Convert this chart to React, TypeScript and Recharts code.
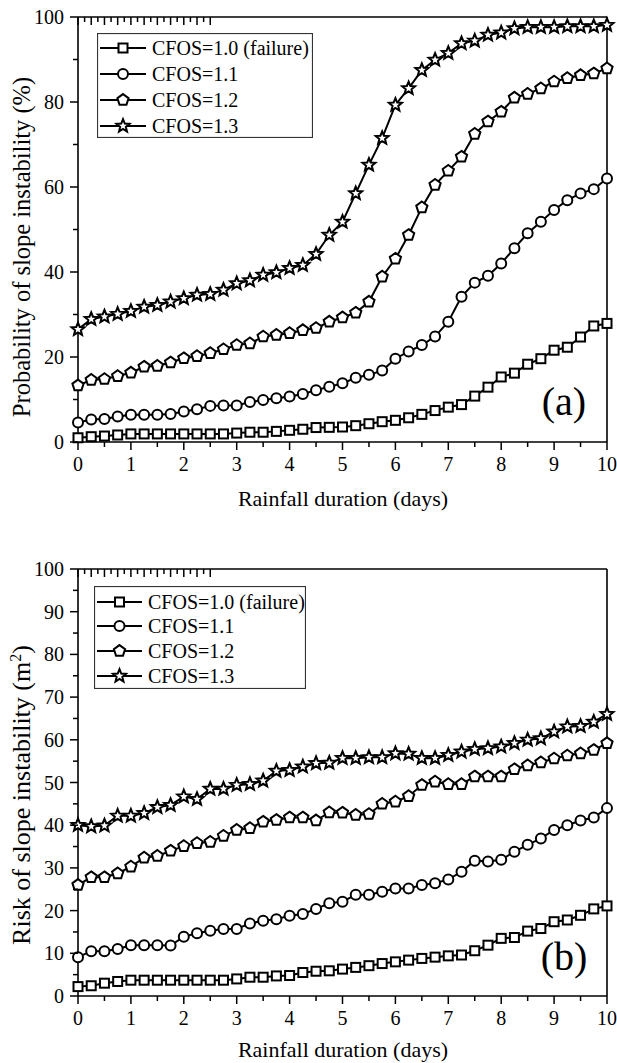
import React from "react";
import { LineChart, Line, XAxis, YAxis, Legend, Label } from "recharts";

const FONT = "'Liberation Serif', serif";

// rainfall duration (days), one point every 6 h
const DAYS = [
  0, 0.25, 0.5, 0.75, 1, 1.25, 1.5, 1.75, 2, 2.25, 2.5, 2.75, 3, 3.25, 3.5,
  3.75, 4, 4.25, 4.5, 4.75, 5, 5.25, 5.5, 5.75, 6, 6.25, 6.5, 6.75, 7, 7.25,
  7.5, 7.75, 8, 8.25, 8.5, 8.75, 9, 9.25, 9.5, 9.75, 10,
];

const NAMES = ["CFOS=1.0 (failure)", "CFOS=1.1", "CFOS=1.2", "CFOS=1.3"];
const KEYS = ["c10", "c11", "c12", "c13"];
const SHAPES = ["square", "circle", "pentagon", "star"];

// (a) probability of slope instability (%)
const PROB_10 = [
  1.0, 1.25, 1.4, 1.65, 1.9, 1.9, 1.9, 1.9, 1.9, 1.9, 1.9, 1.9, 2.1, 2.3, 2.3,
  2.5, 2.75, 3.0, 3.4, 3.45, 3.53, 3.84, 4.3, 4.78, 5.1, 5.7, 6.5, 7.4, 8.2,
  8.8, 10.8, 12.9, 15.3, 16.2, 18.3, 19.6, 21.6, 22.3, 24.7, 27.3, 27.9,
];
const PROB_11 = [
  4.6, 5.3, 5.4, 6.0, 6.4, 6.4, 6.4, 6.6, 7.2, 7.7, 8.5, 8.6, 8.6, 9.4, 9.9,
  10.3, 10.7, 11.3, 12.2, 13.0, 13.8, 15.1, 15.8, 16.8, 19.6, 21.3, 22.8,
  24.8, 28.3, 34.2, 37.5, 39.1, 42.0, 45.6, 49.1, 51.8, 54.6, 56.9, 58.5,
  59.5, 62.0,
];
const PROB_12 = [
  13.3, 14.6, 14.8, 15.5, 16.3, 17.7, 17.9, 18.7, 19.7, 20.2, 20.9, 21.8,
  22.8, 23.2, 24.8, 25.2, 25.6, 26.3, 26.8, 28.3, 29.3, 30.4, 33.0, 38.9,
  43.1, 48.7, 55.2, 60.5, 63.8, 67.1, 72.5, 75.4, 77.7, 81.0, 81.9, 83.2,
  84.8, 85.6, 86.3, 86.7, 87.9,
];
const PROB_13 = [
  26.5, 28.9, 29.5, 30.1, 30.8, 31.8, 32.2, 33.0, 33.8, 34.6, 34.8, 35.8,
  37.3, 38.0, 39.3, 39.9, 40.9, 41.6, 44.2, 48.7, 51.8, 58.5, 65.2, 71.5,
  79.3, 83.2, 87.5, 89.9, 91.5, 93.8, 94.4, 95.8, 96.3, 97.3, 97.6, 97.6,
  97.6, 97.8, 97.8, 97.8, 98.1,
];

// (b) risk of slope instability (m2)
const RISK_10 = [
  2.2, 2.4, 3.0, 3.4, 3.7, 3.7, 3.7, 3.7, 3.7, 3.7, 3.7, 3.7, 4.0, 4.4, 4.4,
  4.7, 4.8, 5.5, 5.8, 5.9, 6.3, 6.7, 7.1, 7.6, 8.0, 8.4, 8.8, 9.1, 9.4, 9.6,
  10.6, 11.9, 13.5, 13.7, 15.2, 15.8, 17.4, 17.8, 18.9, 20.4, 21.1,
];
const RISK_11 = [
  9.1, 10.5, 10.5, 11.0, 11.9, 11.9, 11.9, 11.8, 13.9, 14.7, 15.3, 15.7, 15.7,
  17.0, 17.6, 18.0, 18.8, 19.2, 20.4, 21.7, 22.1, 23.7, 23.7, 24.4, 25.2,
  25.2, 26.0, 26.4, 27.3, 29.1, 31.7, 31.5, 31.9, 33.8, 35.4, 36.9, 38.9,
  40.0, 41.1, 41.8, 44.0,
];
const RISK_12 = [
  26.0, 27.8, 27.8, 28.7, 30.3, 32.4, 32.8, 34.0, 35.1, 35.8, 36.1, 37.5,
  38.9, 39.3, 40.8, 41.2, 41.8, 41.8, 41.1, 43.0, 42.9, 42.4, 42.6, 45.0,
  45.5, 46.8, 49.4, 50.2, 49.6, 49.6, 51.4, 51.4, 51.4, 53.1, 54.0, 54.7,
  55.6, 56.3, 56.8, 57.6, 59.2,
];
const RISK_13 = [
  40.0, 39.7, 39.9, 42.2, 42.2, 42.8, 44.2, 44.7, 46.7, 46.1, 48.5, 48.5,
  49.4, 49.6, 50.4, 52.7, 52.9, 53.7, 54.5, 54.6, 55.7, 55.7, 55.9, 55.9,
  56.8, 56.7, 55.7, 55.7, 56.4, 57.2, 57.8, 58.0, 58.4, 59.2, 60.0, 60.3,
  61.9, 63.1, 63.2, 64.2, 66.0,
];

const X_TICKS = [
  0, 0.5, 1, 1.5, 2, 2.5, 3, 3.5, 4, 4.5, 5, 5.5, 6, 6.5, 7, 7.5, 8, 8.5, 9,
  9.5, 10,
];
const Y_TICKS_A = [0, 10, 20, 30, 40, 50, 60, 70, 80, 90, 100];
const Y_TICKS_B = [
  0, 5, 10, 15, 20, 25, 30, 35, 40, 45, 50, 55, 60, 65, 70, 75, 80, 85, 90,
  95, 100,
];

const rows = (series: number[][]) =>
  DAYS.map((d, i) => {
    const r: any = { day: d };
    KEYS.forEach((k, j) => (r[k] = series[j][i]));
    return r;
  });

const DATA_A = rows([PROB_10, PROB_11, PROB_12, PROB_13]);
const DATA_B = rows([RISK_10, RISK_11, RISK_12, RISK_13]);

function Marker({ cx, cy, shape }: { cx: number; cy: number; shape: string }) {
  const st = { fill: "#fff", stroke: "#000", strokeWidth: 2 };
  if (shape === "square")
    return <rect x={cx - 4.5} y={cy - 4.5} width={9} height={9} {...st} />;
  if (shape === "circle") return <circle cx={cx} cy={cy} r={5} {...st} />;
  const n = shape === "star" ? 10 : 5;
  const pts: string[] = [];
  for (let i = 0; i < n; i++) {
    const r = shape === "star" ? (i % 2 ? 3 : 6.8) : 5.9;
    const a = -Math.PI / 2 + (i * 2 * Math.PI) / n;
    pts.push(`${cx + r * Math.cos(a)},${cy + r * Math.sin(a)}`);
  }
  return <polygon points={pts.join(" ")} {...st} />;
}

const TL = { stroke: "#000", strokeWidth: 1.5 };
const TXT = (size: number) => ({
  fontFamily: "Liberation Serif",
  style: { fontFamily: FONT, fontSize: size },
  fill: "#000",
});

function makeTick(side: string, isMajor: (v: number) => boolean, labels: boolean) {
  return (p: any) => {
    const { x, y, payload } = p;
    const v = payload.value;
    const len = isMajor(v) ? 8 : 5;
    if (side === "bottom")
      return (
        <g>
          <line x1={x} y1={y} x2={x} y2={y + len} {...TL} />
          {labels && isMajor(v) && (
            <text x={x} y={y + 29} textAnchor="middle" {...TXT(20)}>
              {v}
            </text>
          )}
        </g>
      );
    if (side === "left")
      return (
        <g>
          <line x1={x} y1={y} x2={x - len} y2={y} {...TL} />
          {labels && isMajor(v) && (
            <text x={x - 14} y={y + 7} textAnchor="end" {...TXT(20)}>
              {v}
            </text>
          )}
        </g>
      );
    if (side === "top") return <line x1={x} y1={y} x2={x} y2={y + len} {...TL} />;
    return <line x1={x} y1={y} x2={x - len} y2={y} {...TL} />;
  };
}

const xMajor = (v: number) => Number.isInteger(v);

function LegendBox({ payload, w, h, rowY, textX }: any) {
  return (
    <svg width={w} height={h} style={{ display: "block" }}>
      <rect x={0.5} y={0.5} width={w - 1} height={h - 1} fill="#fff" stroke="#333" strokeWidth={1.2} />
      {(payload || []).map((e: any, i: number) => {
        const idx = KEYS.indexOf(e.dataKey);
        const cy = rowY[i];
        return (
          <g key={e.dataKey}>
            <line x1={3} y1={cy} x2={textX - 6} y2={cy} stroke="#000" strokeWidth={2} />
            <Marker cx={(textX - 3) / 2} cy={cy} shape={SHAPES[idx]} />
            <text x={textX} y={cy + 7} {...TXT(20)}>
              {e.value}
            </text>
          </g>
        );
      })}
    </svg>
  );
}

function Panel(props: any) {
  const { data, height, margin, yTicks, yMajor, yTitle, yTitleY, yTitleSize, xTitleY, tag, tagY, legend } = props;
  return (
    <LineChart width={617} height={height} data={data} margin={margin} style={{ fontFamily: FONT }}>
      <XAxis
        dataKey="day"
        type="number"
        domain={[0, 10]}
        ticks={X_TICKS}
        interval={0}
        height={60}
        tickSize={0}
        tickMargin={0}
        tickLine={false}
        axisLine={{ stroke: "#000", strokeWidth: 1.6 }}
        tick={makeTick("bottom", xMajor, true)}
      >
        <Label
          content={() => (
            <text x={343} y={xTitleY} textAnchor="middle" {...TXT(22)}>
              Rainfall duration (days)
            </text>
          )}
        />
      </XAxis>
      <XAxis
        xAxisId="top"
        orientation="top"
        mirror
        type="number"
        domain={[0, 10]}
        ticks={X_TICKS}
        interval={0}
        tickSize={0}
        tickMargin={0}
        tickLine={false}
        axisLine={{ stroke: "#000", strokeWidth: 1.6 }}
        tick={makeTick("top", xMajor, false)}
      >
        <Label
          content={() => (
            <text x={564} y={tagY} textAnchor="middle" {...TXT(40)}>
              {tag}
            </text>
          )}
        />
      </XAxis>
      <YAxis
        type="number"
        domain={[0, 100]}
        ticks={yTicks}
        interval={0}
        width={78}
        tickSize={0}
        tickMargin={0}
        tickLine={false}
        axisLine={{ stroke: "#000", strokeWidth: 1.6 }}
        tick={makeTick("left", yMajor, true)}
      >
        <Label
          content={() => (
            <text
              x={29.5}
              y={yTitleY}
              transform={`rotate(-90 29.5 ${yTitleY})`}
              textAnchor="middle"
              {...TXT(yTitleSize)}
            >
              {yTitle}
            </text>
          )}
        />
      </YAxis>
      <YAxis
        yAxisId="right"
        orientation="right"
        mirror
        type="number"
        domain={[0, 100]}
        ticks={yTicks}
        interval={0}
        tickSize={0}
        tickMargin={0}
        tickLine={false}
        axisLine={{ stroke: "#000", strokeWidth: 1.6 }}
        tick={makeTick("right", yMajor, false)}
      />
      <Legend
        layout="horizontal"
        verticalAlign="middle"
        align="center"
        wrapperStyle={{ left: legend.left, top: legend.top, width: legend.w, height: legend.h }}
        content={(p: any) => (
          <LegendBox payload={p.payload} w={legend.w} h={legend.h} rowY={legend.rows} textX={legend.textX} />
        )}
      />
      {KEYS.map((k, i) => (
        <Line
          key={k}
          dataKey={k}
          name={NAMES[i]}
          type="linear"
          stroke="#000"
          strokeWidth={2}
          isAnimationActive={false}
          dot={(d: any) => <Marker key={`${k}-${d.index}`} cx={d.cx} cy={d.cy} shape={SHAPES[i]} />}
          activeDot={false}
        />
      ))}
    </LineChart>
  );
}

export default function App() {
  return (
    <div
      style={{
        position: "absolute",
        left: 0,
        top: 0,
        width: 617,
        height: 1063,
        background: "#fff",
        fontFamily: FONT,
      }}
    >
      <div style={{ position: "absolute", left: 0, top: 0 }}>
        <Panel
          data={DATA_A}
          height={520}
          margin={{ top: 17, right: 10, left: 0, bottom: 18 }}
          yTicks={Y_TICKS_A}
          yMajor={(v: number) => v % 20 === 0}
          yTitle="Probability of slope instability (%)"
          yTitleY={247}
          yTitleSize={24.5}
          xTitleY={506}
          tag="(a)"
          tagY={415}
          legend={{ left: 97, top: 33, w: 216, h: 105, rows: [15, 41, 67, 93], textX: 55 }}
        />
      </div>
      <div style={{ position: "absolute", left: 0, top: 530 }}>
        <Panel
          data={DATA_B}
          height={533}
          margin={{ top: 39, right: 10, left: 0, bottom: 7 }}
          yTicks={Y_TICKS_B}
          yMajor={(v: number) => v % 10 === 0}
          yTitle={
            <>
              Risk of slope instability (m
              <tspan dy={-9} fontSize={16}>2</tspan>
              <tspan dy={9}>)</tspan>
            </>
          }
          yTitleY={265}
          yTitleSize={26}
          xTitleY={527}
          tag="(b)"
          tagY={440}
          legend={{ left: 94, top: 56, w: 212, h: 103, rows: [16, 40, 65, 90], textX: 54 }}
        />
      </div>
    </div>
  );
}
